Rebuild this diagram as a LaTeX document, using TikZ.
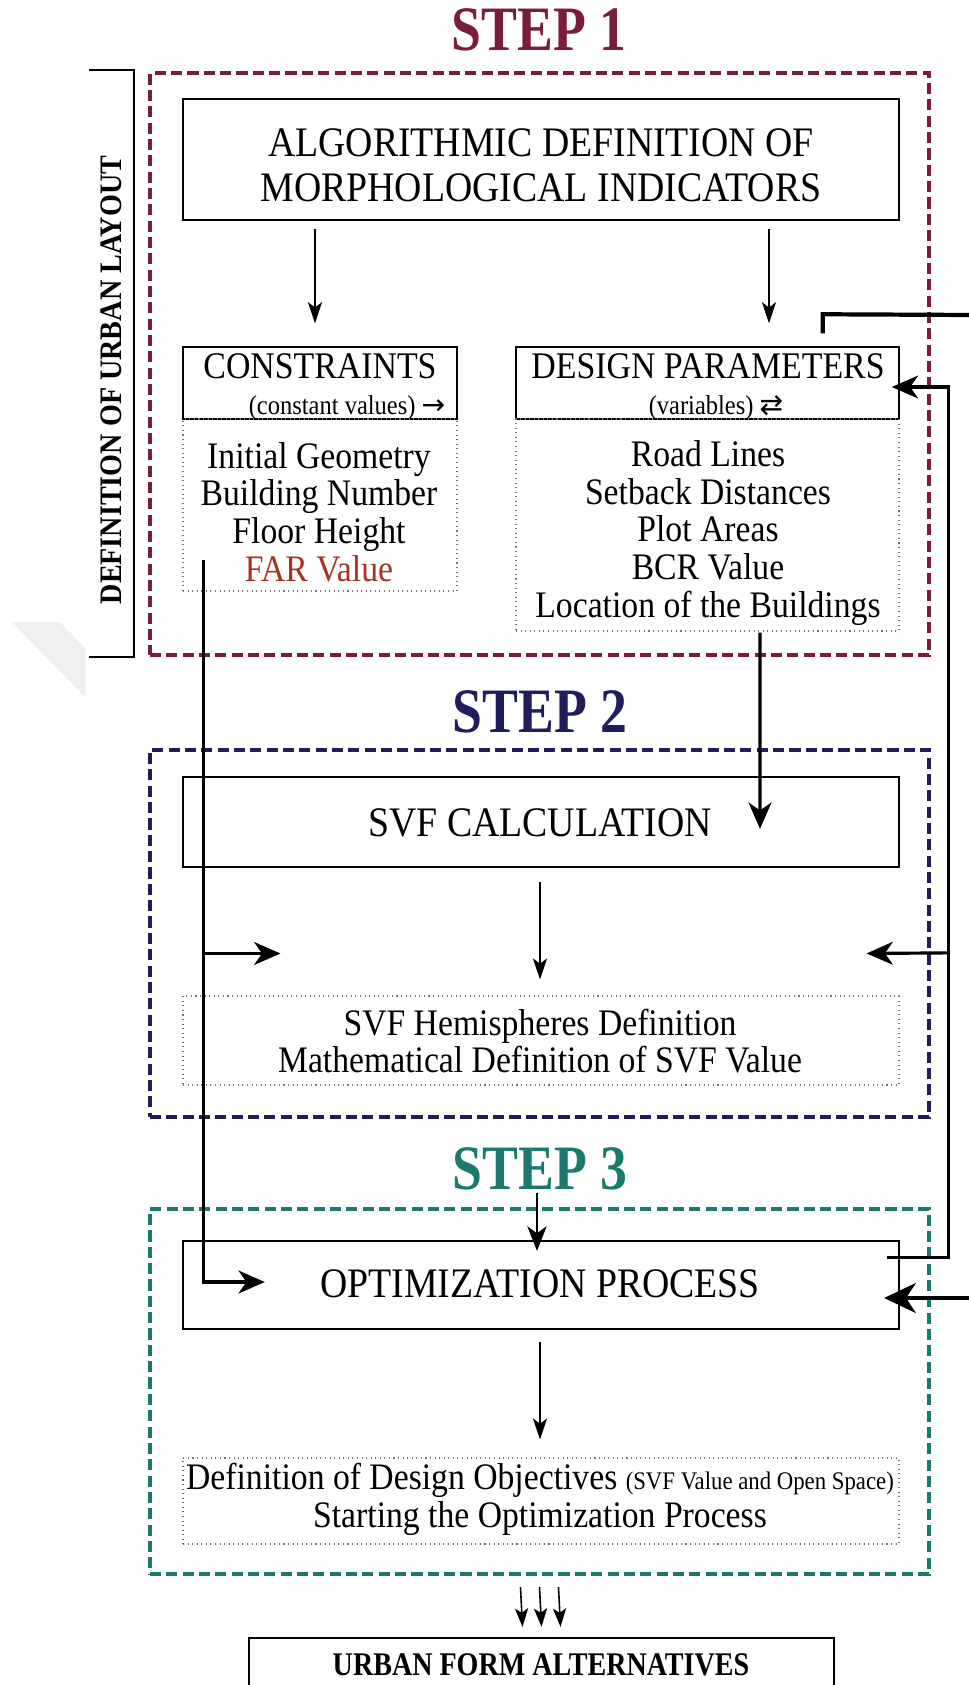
\documentclass[tikz,border=0pt]{standalone}
\usepackage{fontspec}
\setmainfont{Liberation Serif}[FakeStretch=0.9]
\newfontfamily\condserif[FakeStretch=0.85]{Liberation Serif}
\newfontfamily\arrowfont{DejaVu Sans}
\usetikzlibrary{arrows.meta,fit,calc}

\definecolor{stepone}{HTML}{7A1C3C}
\definecolor{steptwo}{HTML}{211D5C}
\definecolor{stepthree}{HTML}{1B7A6D}
\definecolor{farred}{HTML}{A33322}

\newcommand\bigtxt{\fontsize{23.9}{25.5}\selectfont}
\newcommand\hdrtxt{\fontsize{21.4}{22}\selectfont}
\newcommand\bodytxt{\fontsize{21.3}{21.5}\selectfont}
\newcommand\smalltxt{\fontsize{15.5}{16}\selectfont}
\newcommand\tinytxt{\fontsize{14.4}{15}\selectfont}
\newcommand\symtxt{\arrowfont\fontsize{16}{16}\selectfont}

\tikzset{
  steptitle/.style={font=\condserif\bfseries\fontsize{36}{40}\selectfont, inner sep=0pt},
  frame/.style={draw, inner sep=0pt, line width=2.5pt, dash pattern=on 6.3pt off 3pt},
  mainbox/.style={draw, inner sep=0pt, line width=1.3pt},
  hdrbox/.style={draw, inner sep=0pt, line width=0.85pt},
  dotbox/.style={draw=black!55, inner sep=0pt, line width=0.6pt, dotted},
  thinarrow/.style={line width=0.9pt, -{Stealth[length=12pt,width=8pt,inset=3pt]}},
  tinyarrow/.style={line width=0.9pt, -{Stealth[length=10.5pt,width=7.5pt,inset=2.5pt]}},
  medarrow/.style={line width=1.3pt, -{Stealth[length=14pt,width=11pt,inset=4pt]}},
  boldarrow/.style={line width=1.8pt, -{Stealth[length=15pt,width=13pt,inset=4.5pt]}},
  heavyline/.style={line width=2.4pt},
  heavyarrow/.style={line width=2.4pt, -{Stealth[length=18pt,width=17pt,inset=5.5pt]}},
  txt/.style={inner sep=0pt, align=center}
}

\begin{document}
\begin{tikzpicture}[x=0.02cm, y=-0.02cm]
\useasboundingbox (0,0) rectangle (969,1685);
\clip (0,0) rectangle (969,1685);
\fill[white] (0,0) rectangle (969,1685);
% folded page corner
\fill[black!6] (12,622) -- (60,622) -- (85,648) -- (85,697) -- cycle;

% ---------------- STEP 1 ----------------
\node[steptitle, text=stepone] (t1) at (539,30) {STEP 1};
\node[frame, draw=stepone, fit={(150,73)(929,655)}] (f1) {};

% side label
\draw[line width=1.1pt] (89,70) -- (134,70) -- (134,657) -- (89,657);
\node[txt, rotate=90, font=\bfseries\fontsize{17.8}{19}\selectfont] (side) at (111,380) {DEFINITION OF URBAN LAYOUT};

\node[mainbox, fit={(183,99)(899,220)}] (alg) {};
\node[txt, font=\bigtxt] (algT) at (541,165) {ALGORITHMIC DEFINITION OF\\MORPHOLOGICAL INDICATORS};

\node[hdrbox, fit={(183,347)(457,419)}] (consH) {};
\node[txt, font=\hdrtxt] (consT) at (320,366) {CONSTRAINTS};
\node[txt, font=\smalltxt, anchor=base] (consS) at (347,414) {(constant values) {\symtxt →}};
\node[dotbox, fit={(183,419)(457,591)}] (consB) {};
\node[txt, font=\bodytxt] (consL) at (319,512)
  {Initial Geometry\\Building Number\\Floor Height\\\textcolor{farred}{FAR Value}};

\node[hdrbox, fit={(516,347)(899,419)}] (dpH) {};
\node[txt, font=\hdrtxt] (dpT) at (708,366) {DESIGN PARAMETERS};
\node[txt, font=\smalltxt, anchor=base] (dpS) at (716,414) {(variables) {\symtxt ⇄}};
\node[dotbox, fit={(516,419)(899,631)}] (dpB) {};
\node[txt, font=\bodytxt] (dpL) at (708,533)
  {Road Lines\\Setback Distances\\Plot Areas\\BCR Value\\Location of the Buildings};

% ---------------- STEP 2 ----------------
\node[steptitle, text=steptwo] (t2) at (540,712) {STEP 2};
\node[frame, draw=steptwo, fit={(150,750)(929,1117)}] (f2) {};
\node[mainbox, fit={(183,777)(899,867)}] (svf) {};
\node[txt, font=\bigtxt] (svfT) at (540,823) {SVF CALCULATION};
\node[dotbox, fit={(183,996)(899,1085)}] (svfB) {};
\node[txt, font=\bodytxt] (svfL) at (540,1041)
  {SVF Hemispheres Definition\\Mathematical Definition of SVF Value};

% ---------------- STEP 3 ----------------
\node[steptitle, text=stepthree] (t3) at (540,1169) {STEP 3};
\node[frame, draw=stepthree, fit={(150,1209)(929,1574)}] (f3) {};
\node[mainbox, fit={(183,1241)(899,1329)}] (opt) {};
\node[txt, font=\bigtxt] (optT) at (540,1284) {OPTIMIZATION PROCESS};
\node[dotbox, fit={(183,1458)(899,1544)}] (optB) {};
\node[txt, font=\bodytxt] (optL) at (540,1499)
  {Definition of Design Objectives {\tinytxt (SVF Value and Open Space)}\\Starting the Optimization Process};

% ---------------- result ----------------
\node[mainbox, fit={(249,1638)(834,1694)}] (urb) {};
\node[txt, font=\condserif\bfseries\fontsize{18.8}{22}\selectfont] (urbT) at (541,1665) {URBAN FORM ALTERNATIVES};

% ---------------- connectors ----------------
\draw[thinarrow] ($(alg.south)+(-226,8)$) -- ($(consH.north)+(-5,-23)$);
\draw[thinarrow] ($(alg.south)+(228,8)$) -- ($(dpH.north)+(61.5,-23)$);

\draw[boldarrow] ($(dpB.south)+(52.5,1)$) -- ($(svf.north)+(219,53)$);
\draw[thinarrow] ($(svf.south)+(-1,14)$) -- ($(svfB.north)+(-1,-16)$);
\draw[thinarrow] ($(opt.south)+(-1,12)$) -- ($(optB.north)+(-1,-18)$);

\coordinate (farj) at ($(consB.south west)+(21,-32)$);
\draw[boldarrow] (farj) |- ($(opt.west)+(83,-3)$);
\draw[boldarrow] ($(svfB.north west)+(21,-42)$) -- ($(svfB.north west)+(98,-42)$);

\coordinate (loopA) at ($(opt.north east)+(-13,18)$);
\draw[boldarrow] (loopA) -- ++(61,0) |- ($(dpH.east)+(-8,4)$);
\draw[boldarrow] ($(loopA)+(61,-305)$) -- ($(svfB.north east)+(-33,-42)$);

\draw[medarrow] ($(t3.south)+(-3,2)$) -- ($(opt.north)+(-4,11)$);

\coordinate (edgeT) at (975,315);
\coordinate (edgeB) at (975,1298);
\draw[heavyline] ($(dpH.north east)+(-77,-13)$) -- ++(0,-19) -- (edgeT);
\draw[heavyarrow] (edgeB) -- ($(opt.east)+(-16,13)$);

\foreach \dx in {-19,0,19}
  \draw[tinyarrow] ($(f3.south)+(\dx,11)$) -- ($(urb.north)+(\dx,-10)$);
\end{tikzpicture}
\end{document}
